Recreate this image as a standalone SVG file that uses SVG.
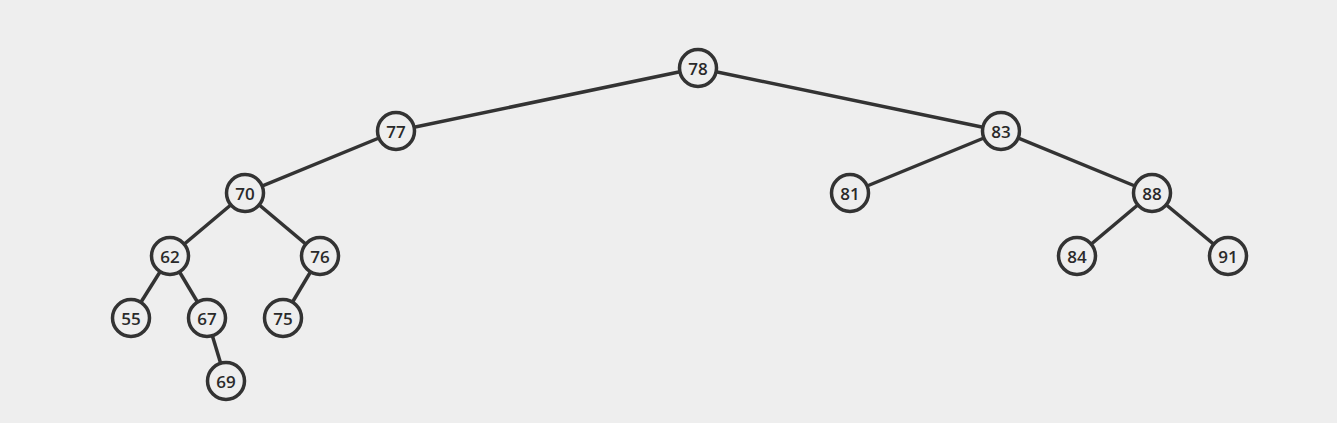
<svg xmlns="http://www.w3.org/2000/svg" width="1337" height="423" viewBox="0 0 1337 423">
<style>
.e{stroke:#333;stroke-width:3.5;fill:none}
.n circle{fill:#eee;stroke:#333;stroke-width:3.5}
.n text{font-family:"Open Sans","DejaVu Sans",sans-serif;font-size:17px;font-weight:600;fill:#2a2a2a;text-anchor:middle;dominant-baseline:central}
</style>
<rect width="1337" height="423" fill="#eeeeee"/>
<g id="connectors">
<line class="e" x1="698" y1="68" x2="396" y2="131"/>
<line class="e" x1="698" y1="68" x2="1001" y2="131"/>
<line class="e" x1="396" y1="131" x2="245" y2="193"/>
<line class="e" x1="1001" y1="131" x2="850" y2="193"/>
<line class="e" x1="1001" y1="131" x2="1152" y2="193"/>
<line class="e" x1="245" y1="193" x2="170" y2="256"/>
<line class="e" x1="245" y1="193" x2="320" y2="256"/>
<line class="e" x1="1152" y1="193" x2="1077" y2="256"/>
<line class="e" x1="1152" y1="193" x2="1228" y2="256"/>
<line class="e" x1="170" y1="256" x2="131" y2="318"/>
<line class="e" x1="170" y1="256" x2="207" y2="318"/>
<line class="e" x1="320" y1="256" x2="283" y2="318"/>
<line class="e" x1="207" y1="318" x2="226" y2="381"/>
</g>
<g id="n78" class="n"><circle cx="698" cy="68" r="18.5"/><text x="698" y="68">78</text></g>
<g id="n77" class="n"><circle cx="396" cy="131" r="18.5"/><text x="396" y="131">77</text></g>
<g id="n83" class="n"><circle cx="1001" cy="131" r="18.5"/><text x="1001" y="131">83</text></g>
<g id="n70" class="n"><circle cx="245" cy="193" r="18.5"/><text x="245" y="193">70</text></g>
<g id="n81" class="n"><circle cx="850" cy="193" r="18.5"/><text x="850" y="193">81</text></g>
<g id="n88" class="n"><circle cx="1152" cy="193" r="18.5"/><text x="1152" y="193">88</text></g>
<g id="n62" class="n"><circle cx="170" cy="256" r="18.5"/><text x="170" y="256">62</text></g>
<g id="n76" class="n"><circle cx="320" cy="256" r="18.5"/><text x="320" y="256">76</text></g>
<g id="n84" class="n"><circle cx="1077" cy="256" r="18.5"/><text x="1077" y="256">84</text></g>
<g id="n91" class="n"><circle cx="1228" cy="256" r="18.5"/><text x="1228" y="256">91</text></g>
<g id="n55" class="n"><circle cx="131" cy="318" r="18.5"/><text x="131" y="318">55</text></g>
<g id="n67" class="n"><circle cx="207" cy="318" r="18.5"/><text x="207" y="318">67</text></g>
<g id="n75" class="n"><circle cx="283" cy="318" r="18.5"/><text x="283" y="318">75</text></g>
<g id="n69" class="n"><circle cx="226" cy="381" r="18.5"/><text x="226" y="381">69</text></g>
</svg>
